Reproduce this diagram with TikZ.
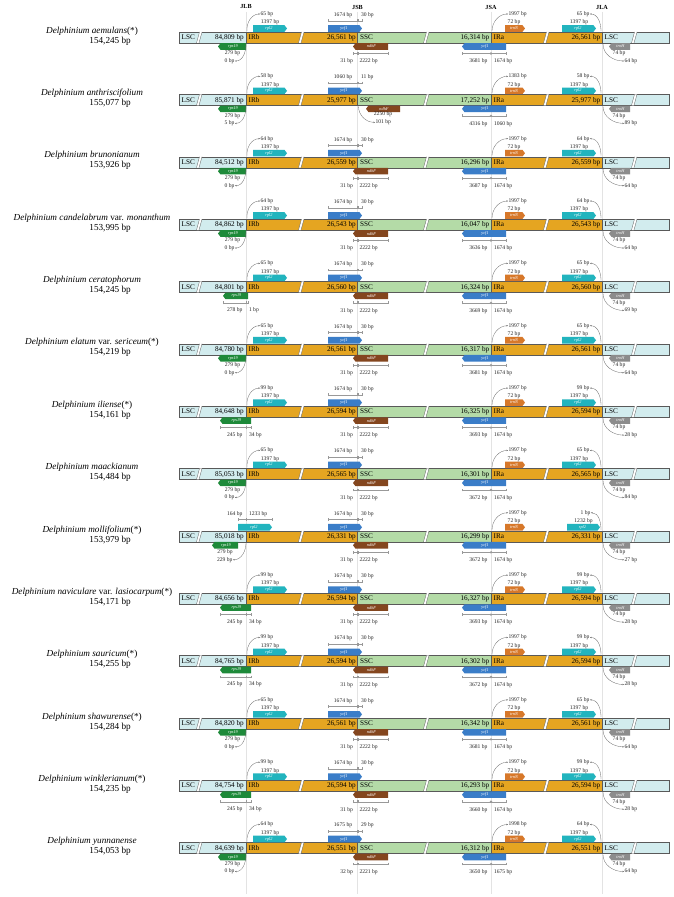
\documentclass[tikz,border=0pt]{standalone}
\usepackage{fontspec}
\setmainfont{Liberation Serif}
\usetikzlibrary{arrows.meta}

\definecolor{lsccol}{RGB}{210,236,238}
\definecolor{ircol}{RGB}{229,165,33}
\definecolor{ssccol}{RGB}{180,219,167}
\definecolor{rplcol}{RGB}{34,180,190}
\definecolor{ycfcol}{RGB}{58,125,200}
\definecolor{rpscol}{RGB}{30,138,58}
\definecolor{ndhcol}{RGB}{132,70,30}
\definecolor{trnncol}{RGB}{215,120,42}
\definecolor{trnhcol}{RGB}{140,140,140}

\tikzset{
  segbox/.style={draw=gray!70!black, line width=0.3pt},
  genelbl/.style={text=white, font=\fontsize{4.3}{5}\selectfont\itshape, inner sep=0pt},
  bplbl/.style={font=\fontsize{5.6}{6}\selectfont, inner sep=0.3pt, text=black!85},
  seglbl/.style={font=\fontsize{7.2}{8}\selectfont, inner sep=0pt},
  spname/.style={font=\fontsize{9.2}{10}\selectfont, inner sep=0pt},
  junclbl/.style={font=\fontsize{6.2}{7}\selectfont\bfseries, inner sep=0pt},
  juncline/.style={draw=gray!22, line width=0.5pt},
  dimbar/.style={draw=gray!80, line width=0.35pt, {Bar[width=2.8pt]}-{Bar[width=2.8pt]}},
  distarrow/.style={draw=gray!80!black, line width=0.3pt, -{Stealth[length=1.6pt,width=1.4pt]}},
  genomerow/.style={shift={(0,{859.5-62.35*#1})}},
}

% gene boxes: name, x1, x2, y, colour, label
\newcommand{\generight}[6]{%
  \fill[#5] (#2,#4-3.3) -- (#3-2.5,#4-3.3) -- (#3,#4) -- (#3-2.5,#4+3.3) -- (#2,#4+3.3) -- cycle;
  \node[genelbl] (#1) at ({(#2+#3)/2-1},#4) {#6};
}
\newcommand{\geneleft}[6]{%
  \fill[#5] (#3,#4-3.3) -- (#2+2.5,#4-3.3) -- (#2,#4) -- (#2+2.5,#4+3.3) -- (#3,#4+3.3) -- cycle;
  \node[genelbl] (#1) at ({(#2+#3)/2+1},#4) {#6};
}

% one genome: name, size, LSC, IR, SSC
\newcommand{\genome}[5]{%
  \filldraw[segbox, fill=lsccol] (179,-5.5) rectangle (246,5.5);
  \filldraw[segbox, fill=ircol] (246,-5.5) rectangle (357.5,5.5);
  \filldraw[segbox, fill=ssccol] (357.5,-5.5) rectangle (491,5.5);
  \filldraw[segbox, fill=ircol] (491,-5.5) rectangle (602,5.5);
  \filldraw[segbox, fill=lsccol] (602,-5.5) rectangle (669,5.5);
  \foreach \s in {200,302,427,547,635} {
    \fill[white] (\s-3.5,-5.5) -- (\s-0.5,5.5) -- (\s+2,5.5) -- (\s-1,-5.5) -- cycle;
    \draw[segbox] (\s-3.5,-5.5) -- (\s-0.5,5.5) (\s-1,-5.5) -- (\s+2,5.5);
  }
  \node[seglbl, anchor=mid west] (lscb) at (181.5,0) {LSC};
  \node[seglbl, anchor=mid east] (lsclen) at (244,0) {#3 bp};
  \node[seglbl, anchor=mid west] (irb) at (248.5,0) {IRb};
  \node[seglbl, anchor=mid east] (irblen) at (356,0) {#4 bp};
  \node[seglbl, anchor=mid west] (ssc) at (360,0) {SSC};
  \node[seglbl, anchor=mid east] (ssclen) at (489.5,0) {#5 bp};
  \node[seglbl, anchor=mid west] (ira) at (493.5,0) {IRa};
  \node[seglbl, anchor=mid east] (iralen) at (600.5,0) {#4 bp};
  \node[seglbl, anchor=mid west] (lsca) at (604.5,0) {LSC};
  \node[spname] (spec) at (92,6.5) {#1};
  \node[spname, anchor=east] (specbp) at (131,-3.5) {#2 bp};
}

% junction details
\newcommand{\jlbtop}[2]{%
  \generight{rpl}{253}{287}{9}{rplcol}{rpl2}
  \node[bplbl] (rpllen) at (270,15) {#2 bp};
  \node[bplbl, anchor=west] (rpldist) at (260,23.5) {#1 bp};
  \draw[distarrow] (247,6.5) to[out=95,in=180] (rpldist.west);
}
\newcommand{\jlbbot}[2]{%
  \geneleft{rps}{218}{246}{-9}{rpscol}{rps19}
  \node[bplbl] (rpslen) at (232.5,-16) {#1 bp};
  \node[bplbl, anchor=east] (rpsdist) at (235,-23.5) {#2 bp};
  \draw[distarrow] (246,-6.5) to[out=-90,in=0] (rpsdist.east);
}
\newcommand{\jlbbars}[4]{%
  \geneleft{rps}{#1}{#2}{-9}{rpscol}{rps19}
  \draw[dimbar] (#1,-16) -- (246,-16);
  \draw[dimbar] (246,-16) -- (#2,-16);
  \node[bplbl, anchor=east] (rpsa) at (243,-23.5) {#3 bp};
  \node[bplbl, anchor=west] (rpsb) at (248.5,-23.5) {#4 bp};
}
\newcommand{\jsbtop}[2]{%
  \generight{ycfb}{328}{362}{9}{ycfcol}{ycf1}
  \draw[dimbar] (328,16.8) -- (357.5,16.8);
  \draw[dimbar] (357.5,16.8) -- (362,16.8);
  \node[bplbl] (ycfba) at (343,22.5) {#1 bp};
  \node[bplbl, anchor=west] (ycfbb) at (360.5,22.5) {#2 bp};
}
\newcommand{\jsbbot}[2]{%
  \geneleft{ndh}{353}{388}{-9}{ndhcol}{ndhF}
  \draw[dimbar] (353,-16) -- (357.5,-16);
  \draw[dimbar] (357.5,-16) -- (388,-16);
  \node[bplbl, anchor=east] (ndha) at (353.5,-24) {#1 bp};
  \node[bplbl, anchor=west] (ndhb) at (359,-24) {#2 bp};
}
\newcommand{\jsatop}[2]{%
  \generight{trnn}{505}{525}{9}{trnncol}{trnN}
  \node[bplbl] (trnnlen) at (514,15) {#2 bp};
  \node[bplbl, anchor=west] (trnndist) at (508,23.5) {#1 bp};
  \draw[distarrow] (492,6.5) to[out=90,in=180] (trnndist.west);
}
\newcommand{\jsabot}[2]{%
  \geneleft{ycfa}{462}{506}{-9}{ycfcol}{ycf1}
  \draw[dimbar] (462,-16) -- (506,-16);
  \fill[gray!80] (491,-16) circle (1.3);
  \node[bplbl, anchor=east] (ycfaa) at (488,-24) {#1 bp};
  \node[bplbl, anchor=west] (ycfab) at (493.5,-24) {#2 bp};
}
\newcommand{\jlatop}[2]{%
  \generight{rpla}{562}{596}{9}{rplcol}{rpl2}
  \node[bplbl] (rplalen) at (579,15) {#2 bp};
  \node[bplbl, anchor=east] (rpladist) at (590,23.5) {#1 bp};
  \draw[distarrow] (601,6.5) to[out=90,in=0] (rpladist.east);
}
\newcommand{\jlabot}[2]{%
  \geneleft{trnh}{609}{630}{-9}{trnhcol}{trnH}
  \node[bplbl] (trnhlen) at (619,-16) {#1 bp};
  \node[bplbl, anchor=west] (trnhdist) at (624,-23.5) {#2 bp};
  \draw[distarrow] (603,-6.5) to[out=-90,in=180] (trnhdist.west);
}

\begin{document}
\begin{tikzpicture}[x=1pt,y=1pt]
\useasboundingbox[fill=white] (0,0) rectangle (674,897);

% junction lines
\foreach \x/\j in {246/JLB,357.5/JSB,491/JSA,602/JLA} {
  \draw[juncline] (\x,885) -- (\x,3);
  \node[junclbl] (\j) at (\x,890) {\j};
}

\begin{scope}[genomerow=0]
  \genome{\textit{Delphinium aemulans}(*)}{154,245}{84,809}{26,561}{16,314}
  \jlbtop{65}{1397} \jlbbot{279}{0}
  \jsbtop{1674}{30} \jsbbot{31}{2222}
  \jsatop{1997}{72} \jsabot{3681}{1674}
  \jlatop{65}{1397} \jlabot{74}{64}
\end{scope}

\begin{scope}[genomerow=1]
  \genome{\textit{Delphinium anthriscifolium}}{155,077}{85,871}{25,977}{17,252}
  \jlbtop{58}{1397} \jlbbot{279}{5}
  \jsbtop{1060}{11}
  \geneleft{ndh}{366}{400}{-9}{ndhcol}{ndhF}
  \node[bplbl] (ndhlen) at (383,-14.5) {2250 bp};
  \node[bplbl, anchor=west] (ndhdist) at (375,-22.5) {101 bp};
  \draw[distarrow] (358.5,-6.5) to[out=-90,in=180] (ndhdist.west);
  \jsatop{1383}{72} \jsabot{4316}{1060}
  \jlatop{58}{1397} \jlabot{74}{89}
\end{scope}

\begin{scope}[genomerow=2]
  \genome{\textit{Delphinium brunonianum}}{153,926}{84,512}{26,559}{16,296}
  \jlbtop{64}{1397} \jlbbot{279}{0}
  \jsbtop{1674}{30} \jsbbot{31}{2222}
  \jsatop{1997}{72} \jsabot{3687}{1674}
  \jlatop{64}{1397} \jlabot{74}{64}
\end{scope}

\begin{scope}[genomerow=3]
  \genome{\textit{Delphinium candelabrum} var. \textit{monanthum}}{153,995}{84,862}{26,543}{16,047}
  \jlbtop{64}{1397} \jlbbot{279}{0}
  \jsbtop{1674}{30} \jsbbot{31}{2222}
  \jsatop{1997}{72} \jsabot{3636}{1674}
  \jlatop{64}{1397} \jlabot{74}{64}
\end{scope}

\begin{scope}[genomerow=4]
  \genome{\textit{Delphinium ceratophorum}}{154,245}{84,801}{26,560}{16,324}
  \jlbtop{65}{1397} \jlbbars{223}{248}{278}{1}
  \jsbtop{1674}{30} \jsbbot{31}{2222}
  \jsatop{1997}{72} \jsabot{3669}{1674}
  \jlatop{65}{1397} \jlabot{74}{69}
\end{scope}

\begin{scope}[genomerow=5]
  \genome{\textit{Delphinium elatum} var. \textit{sericeum}(*)}{154,219}{84,780}{26,561}{16,317}
  \jlbtop{65}{1397} \jlbbot{279}{0}
  \jsbtop{1674}{30} \jsbbot{31}{2222}
  \jsatop{1997}{72} \jsabot{3681}{1674}
  \jlatop{65}{1397} \jlabot{74}{64}
\end{scope}

\begin{scope}[genomerow=6]
  \genome{\textit{Delphinium iliense}(*)}{154,161}{84,648}{26,594}{16,325}
  \jlbtop{99}{1397} \jlbbars{220}{251}{245}{34}
  \jsbtop{1674}{30} \jsbbot{31}{2222}
  \jsatop{1997}{72} \jsabot{3693}{1674}
  \jlatop{99}{1397} \jlabot{74}{28}
\end{scope}

\begin{scope}[genomerow=7]
  \genome{\textit{Delphinium maackianum}}{154,484}{85,053}{26,565}{16,301}
  \jlbtop{65}{1397} \jlbbot{279}{0}
  \jsbtop{1674}{30} \jsbbot{31}{2222}
  \jsatop{1997}{72} \jsabot{3672}{1674}
  \jlatop{65}{1397} \jlabot{74}{84}
\end{scope}

\begin{scope}[genomerow=8]
  \genome{\textit{Delphinium mollifolium}(*)}{153,979}{85,018}{26,331}{16,299}
  \generight{rpl}{238}{272}{9}{rplcol}{rpl2}
  \draw[dimbar] (238,16.8) -- (246,16.8);
  \draw[dimbar] (246,16.8) -- (272,16.8);
  \node[bplbl, anchor=east] (rpla) at (243,22.5) {164 bp};
  \node[bplbl, anchor=west] (rplb) at (248.5,22.5) {1233 bp};
  \geneleft{rps}{212}{238}{-9}{rpscol}{rps19}
  \node[bplbl] (rpslen) at (225,-16) {279 bp};
  \node[bplbl, anchor=east] (rpsdist) at (233,-23.5) {229 bp};
  \draw[distarrow] (246,-6.5) to[out=-90,in=0] (rpsdist.east);
  \jsbtop{1674}{30} \jsbbot{31}{2222}
  \jsatop{1997}{72} \jsabot{3672}{1674}
  \generight{rpla}{567}{600}{9}{rplcol}{rpl2}
  \node[bplbl] (rplalen) at (583.5,15) {1232 bp};
  \node[bplbl, anchor=east] (rpladist) at (591,23.5) {1 bp};
  \draw[distarrow] (601,6.5) to[out=90,in=0] (rpladist.east);
  \jlabot{74}{27}
\end{scope}

\begin{scope}[genomerow=9]
  \genome{\textit{Delphinium naviculare} var. \textit{lasiocarpum}(*)}{154,171}{84,656}{26,594}{16,327}
  \jlbtop{99}{1397} \jlbbars{220}{251}{245}{34}
  \jsbtop{1674}{30} \jsbbot{31}{2222}
  \jsatop{1997}{72} \jsabot{3693}{1674}
  \jlatop{99}{1397} \jlabot{74}{28}
\end{scope}

\begin{scope}[genomerow=10]
  \genome{\textit{Delphinium sauricum}(*)}{154,255}{84,765}{26,594}{16,302}
  \jlbtop{99}{1397} \jlbbars{220}{251}{245}{34}
  \jsbtop{1674}{30} \jsbbot{31}{2222}
  \jsatop{1997}{72} \jsabot{3672}{1674}
  \jlatop{99}{1397} \jlabot{74}{28}
\end{scope}

\begin{scope}[genomerow=11]
  \genome{\textit{Delphinium shawurense}(*)}{154,284}{84,820}{26,561}{16,342}
  \jlbtop{65}{1397} \jlbbot{279}{0}
  \jsbtop{1674}{30} \jsbbot{31}{2222}
  \jsatop{1997}{72} \jsabot{3681}{1674}
  \jlatop{65}{1397} \jlabot{74}{64}
\end{scope}

\begin{scope}[genomerow=12]
  \genome{\textit{Delphinium winklerianum}(*)}{154,235}{84,754}{26,594}{16,293}
  \jlbtop{99}{1397} \jlbbars{220}{251}{245}{34}
  \jsbtop{1674}{30} \jsbbot{31}{2222}
  \jsatop{1997}{72} \jsabot{3660}{1674}
  \jlatop{99}{1397} \jlabot{74}{28}
\end{scope}

\begin{scope}[genomerow=13]
  \genome{\textit{Delphinium yunnanense}}{154,053}{84,639}{26,551}{16,312}
  \jlbtop{64}{1397} \jlbbot{279}{0}
  \jsbtop{1675}{29} \jsbbot{32}{2221}
  \jsatop{1998}{72} \jsabot{3650}{1675}
  \jlatop{64}{1397} \jlabot{74}{64}
\end{scope}
\end{tikzpicture}
\end{document}
